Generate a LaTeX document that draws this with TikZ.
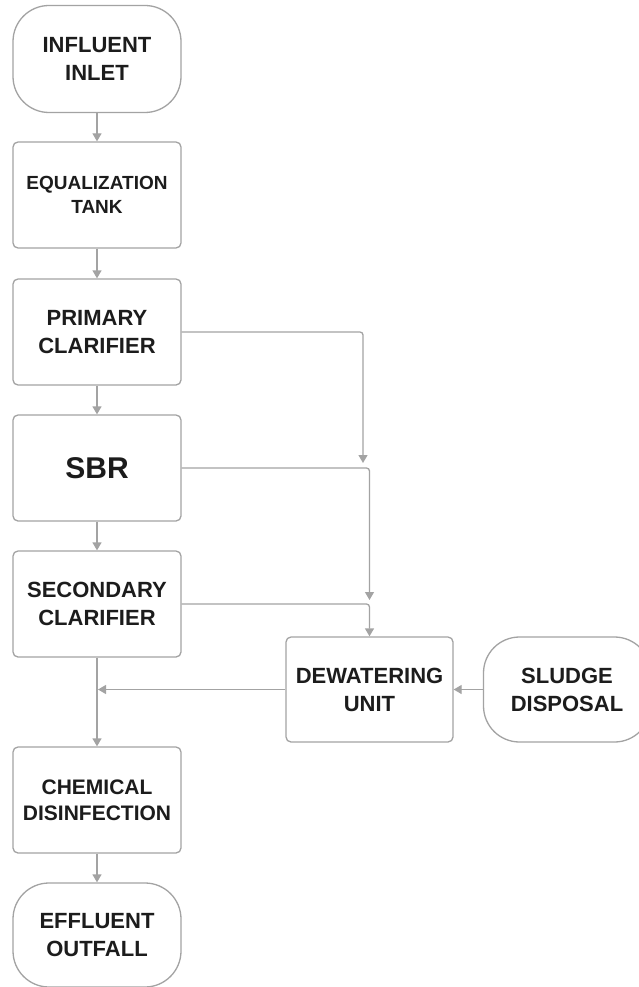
\documentclass[tikz,border=0pt]{standalone}
\usepackage{fontspec}
\setmainfont{Liberation Sans}
\usetikzlibrary{arrows.meta}
\definecolor{edge}{HTML}{A3A3A3}
\definecolor{ink}{HTML}{1C1C1C}
\tikzset{
  box/.style={draw=edge, line width=1.3pt, rounded corners=5pt, fill=white,
    minimum width=168pt, minimum height=106pt, inner sep=0pt, align=center,
    text=ink, font=\bfseries\fontsize{22}{28}\selectfont},
  term/.style={box, rounded corners=36pt, minimum height=107pt},
  arr/.style={draw=edge, line width=1.3pt, rounded corners=3pt,
    -{Triangle[width=9pt,length=8pt]}},
}
\begin{document}
\begin{tikzpicture}[x=1pt,y=-1pt]
\useasboundingbox (0,0) rectangle (638,987);
\node[term] (in) at (97,59) {INFLUENT\\INLET};
\node[box, font=\bfseries\fontsize{19}{24}\selectfont] (eq) at (97,195) {EQUALIZATION\\TANK};
\node[box] (pc) at (97,332) {PRIMARY\\CLARIFIER};
\node[box, font=\bfseries\fontsize{30}{36}\selectfont] (sbr) at (97,468) {SBR};
\node[box] (sc) at (97,604) {SECONDARY\\CLARIFIER};
\node[box, font=\bfseries\fontsize{21}{26}\selectfont] (cd) at (97,800) {CHEMICAL\\DISINFECTION};
\node[term, minimum height=104pt] (eo) at (97,935) {EFFLUENT\\OUTFALL};
\node[box, minimum width=167pt, minimum height=105pt] (dw) at (369.5,689.5) {DEWATERING\\UNIT};
\node[term, minimum width=167pt, minimum height=105pt] (sd) at (567,689.5) {SLUDGE\\DISPOSAL};
\coordinate (j1) at (363,463);
\coordinate (j2) at (369.5,600);
\coordinate (j3) at (98,689.5);
\draw[arr] (in) -- (eq);
\draw[arr] (eq) -- (pc);
\draw[arr] (pc) -- (sbr);
\draw[arr] (sbr) -- (sc);
\draw[arr] (sc) -- (cd);
\draw[arr] (cd) -- (eo);
\draw[arr] (pc.east) -| (j1);
\draw[arr] (sbr.east) -| (j2);
\draw[arr] (sc.east) -| (dw.north);
\draw[arr] (dw.west) -- (j3);
\draw[arr] (sd.west) -- (dw.east);
\end{tikzpicture}
\end{document}
